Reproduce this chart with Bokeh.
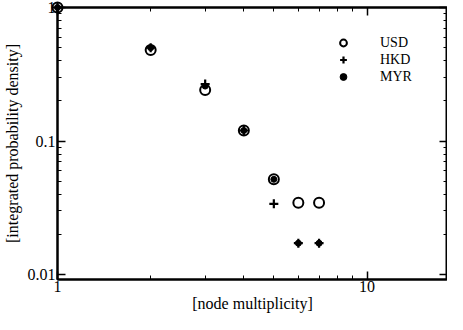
from bokeh.plotting import figure
from bokeh.models import (LogAxis, FixedTicker, Legend, LegendItem, ColumnDataSource)
from bokeh.embed import file_html
from bokeh.resources import INLINE

# ---- data ----
multiplicity = [1, 2, 3, 4, 5, 6, 7]
usd = [1.0, 0.48, 0.241, 0.12, 0.0517, 0.0345, 0.0345]
hkd = [1.0, 0.50, 0.267, 0.12, 0.0339, 0.0172, 0.0172]
myr = [1.0, 0.50, 0.258, 0.12, 0.0517, 0.0172, 0.0172]
series_names = ["USD", "HKD", "MYR"]
x_major = [1, 10]
x_labels = {1: "1", 10: "10"}
y_major = [0.01, 0.1, 1]
y_labels = {0.01: "0.01", 0.1: "0.1", 1: "1"}

FONT = "'Liberation Serif', serif"

x_minor = [m * 10 ** e for e in range(0, 2) for m in range(2, 10)] + [20]
y_minor = [m * 10 ** e for e in range(-3, 0) for m in range(2, 10)]

p = figure(width=447, height=314, x_axis_type="log", y_axis_type="log",
           x_range=(1, 18.2), y_range=(0.0092, 1.0),
           output_backend="svg", toolbar_location=None,
           min_border_top=7, min_border_right=0, min_border_left=0, min_border_bottom=0)
p.grid.visible = False
p.outline_line_color = "black"
p.outline_line_width = 2
p.background_fill_color = "white"
p.border_fill_color = "white"

def style(ax, size="16px"):
    ax.axis_line_width = 2
    ax.major_tick_in = 8
    ax.major_tick_out = 0
    ax.minor_tick_in = 4
    ax.minor_tick_out = 0
    ax.major_tick_line_width = 1.5
    ax.minor_tick_line_width = 1
    ax.major_label_text_font = FONT
    ax.major_label_text_font_size = size
    ax.major_label_text_color = "black"
    ax.axis_label_text_font = FONT
    ax.axis_label_text_font_size = "16px"
    ax.axis_label_text_font_style = "normal"
    ax.axis_label_text_color = "black"

xt = FixedTicker(ticks=x_major, minor_ticks=x_minor)
yt = FixedTicker(ticks=y_major, minor_ticks=y_minor)

xa = p.xaxis[0]
xa.ticker = xt
xa.major_label_overrides = x_labels
xa.major_label_standoff = 1
xa.axis_label = "[node multiplicity]"
xa.axis_label_standoff = 0
style(xa)

ya = p.yaxis[0]
ya.ticker = yt
ya.major_label_overrides = y_labels
ya.major_label_standoff = 2
ya.axis_label = "[integrated probability density]"
ya.axis_label_standoff = 4
style(ya)

top = LogAxis(ticker=FixedTicker(ticks=x_major, minor_ticks=x_minor),
              major_label_overrides={1: "", 10: ""})
style(top, "0px")
top.major_label_standoff = 0
p.add_layout(top, "above")
right = LogAxis(ticker=FixedTicker(ticks=y_major, minor_ticks=y_minor),
                major_label_overrides={0.01: "", 0.1: "", 1: ""})
style(right, "0px")
right.major_label_standoff = 0
p.add_layout(right, "right")

src = ColumnDataSource(dict(x=multiplicity, usd=usd, hkd=hkd, myr=myr))

r_usd = p.scatter("x", "usd", source=src, marker="circle", size=10,
                  fill_color=None, line_color="black", line_width=2, level="overlay")
r_hkd = p.scatter("x", "hkd", source=src, marker="cross", size=9,
                  line_color="black", line_width=2.2, level="overlay")
r_myr = p.scatter("x", "myr", source=src, marker="circle", size=6,
                  fill_color="black", line_color="black", line_width=1, level="overlay")

legend = Legend(items=[LegendItem(label=series_names[0], renderers=[r_usd]),
                       LegendItem(label=series_names[1], renderers=[r_hkd]),
                       LegendItem(label=series_names[2], renderers=[r_myr])],
                location=(276, 194), orientation="vertical",
                glyph_width=20, glyph_height=17, label_height=17,
                label_standoff=27, spacing=0, padding=0, margin=0,
                border_line_color=None, background_fill_alpha=0,
                label_text_font=FONT, label_text_font_size="14px",
                label_text_color="black")
p.add_layout(legend, "center")

open("out.html", "w").write(file_html(p, INLINE))
